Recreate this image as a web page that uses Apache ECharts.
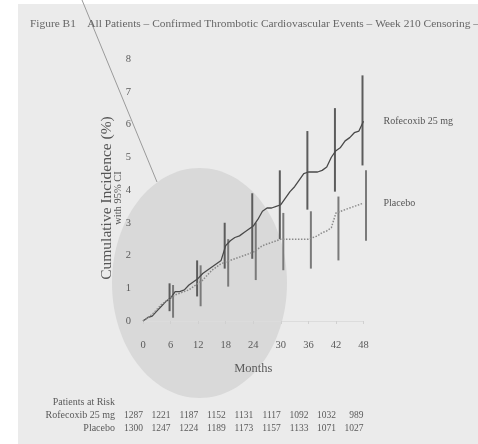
<!DOCTYPE html>
<html>
<head>
<meta charset="utf-8">
<script src="https://cdn.jsdelivr.net/npm/echarts@6/dist/echarts.min.js"></script>
<style>
html,body{margin:0;padding:0;background:#fff;}
#c{width:478px;height:444px;}
</style>
</head>
<body>
<div id="c"></div>
<script>
// ---- data ----
const months = [0,1,2,3,4,5,6,7,8,9,10,11,12,13,14,15,16,17,18,19,20,21,22,23,24,25,26,27,28,29,30,31,32,33,34,35,36,37,38,39,40,41,42,43,44,45,46,47,48];
const rofecoxib = [0,0.1,0.15,0.3,0.45,0.6,0.7,0.9,0.9,0.95,1.1,1.2,1.3,1.45,1.55,1.65,1.75,1.85,2.3,2.45,2.55,2.6,2.7,2.8,2.9,3.1,3.35,3.45,3.45,3.5,3.55,3.75,3.95,4.1,4.3,4.5,4.55,4.55,4.55,4.6,4.7,5.0,5.2,5.3,5.5,5.6,5.75,5.8,6.1];
const placebo = [0,0.1,0.2,0.35,0.5,0.6,0.7,0.8,0.85,0.9,0.95,1.05,1.15,1.25,1.4,1.55,1.65,1.75,1.8,1.85,1.9,1.95,2.0,2.05,2.1,2.2,2.3,2.35,2.4,2.45,2.5,2.5,2.5,2.5,2.5,2.5,2.5,2.55,2.6,2.7,2.75,2.85,3.3,3.35,3.4,3.45,3.5,3.55,3.6];
const ciMonths = [6,12,18,24,30,36,42,48];
const rofLow  = [0.3,0.75,1.6,1.9,2.5,3.4,3.95,4.75];
const rofHigh = [1.15,1.85,3.0,3.9,4.6,5.8,6.5,7.5];
const plaLow  = [0.1,0.45,1.05,1.25,1.55,1.6,1.85,2.45];
const plaHigh = [1.1,1.7,2.5,3.0,3.3,3.35,3.8,4.6];
const xTicks = [0,6,12,18,24,30,36,42,48];
const yTicks = [0,1,2,3,4,5,6,7,8];
const riskRof = [1287,1221,1187,1152,1131,1117,1092,1032,989];
const riskPla = [1300,1247,1224,1189,1173,1157,1133,1071,1027];
const seriesNames = ['Rofecoxib 25 mg','Placebo'];

const serif = 'Liberation Serif';
const txt = '#5a5a5a';

const chart = echarts.init(document.getElementById('c'), null, {renderer:'canvas'});

function ciSeries(low, high, dx, color){
  return {
    type:'custom', z:3,
    data: ciMonths.map((m,i)=>[m, low[i], high[i]]),
    renderItem(params, api){
      const p1 = api.coord([api.value(0), api.value(1)]);
      const p2 = api.coord([api.value(0), api.value(2)]);
      return {type:'line', shape:{x1:p1[0]+dx, y1:p1[1], x2:p2[0]+dx, y2:p2[1]},
              style:{stroke:color, lineWidth:2}};
    }
  };
}

const baseX = {type:'value', min:xTicks[0], max:xTicks[xTicks.length-1], interval:6, gridIndex:0};

chart.setOption({
  backgroundColor:'#ffffff',
  animation:false,
  title:{
    text:'Figure B1    All Patients \u2013 Confirmed Thrombotic Cardiovascular Events \u2013 Week 210 Censoring \u2013',
    left:25, top:14,
    textStyle:{fontFamily:serif, fontSize:11.4, fontWeight:'normal', color:'#666'}
  },
  graphic:[
    {type:'rect', z:-20, shape:{x:18,y:4,width:460,height:440}, style:{fill:'#ebebeb'}},
    {type:'ellipse', z:-10, shape:{cx:199.5,cy:283,rx:87.5,ry:115}, style:{fill:'#d9d9d9'}},
    {type:'line', z:-5, shape:{x1:82,y1:0,x2:157,y2:182}, style:{stroke:'#9a9a9a', lineWidth:1}},
    {type:'text', x:112, y:198, rotation:Math.PI/2, style:{
      text:'{a|Cumulative Incidence (%)}\n{b|with 95% CI}',
      textAlign:'center', textVerticalAlign:'middle',
      rich:{
        a:{fontFamily:serif, fontSize:15.5, fill:'#555', lineHeight:13, align:'center'},
        b:{fontFamily:serif, fontSize:10.5, fill:'#555', lineHeight:11, align:'center'}
      }
    }},
    {type:'text', right:478-115, top:397, style:{text:'Patients at Risk', font:'10px "Liberation Serif"', fill:txt, textAlign:'right'}},
    {type:'text', right:478-115, top:410, style:{text:'Rofecoxib 25 mg', font:'10px "Liberation Serif"', fill:txt, textAlign:'right'}},
    {type:'text', right:478-115, top:423, style:{text:'Placebo', font:'10px "Liberation Serif"', fill:txt, textAlign:'right'}}
  ],
  grid:{left:143, right:114.5, top:59, bottom:123, containLabel:false},
  xAxis:[
    Object.assign({}, baseX, {
      offset:4,
      name:'Months', nameLocation:'middle', nameGap:37,
      nameTextStyle:{fontFamily:serif, fontSize:12.5, color:txt},
      axisLine:{show:true, lineStyle:{color:'#dcdcdc', width:1}},
      axisTick:{show:true, length:3, lineStyle:{color:'#d0d0d0'}},
      axisLabel:{margin:15, fontFamily:serif, fontSize:10.5, color:txt, showMinLabel:true, showMaxLabel:true},
      splitLine:{show:false}
    }),
    Object.assign({}, baseX, {
      position:'bottom', offset:81,
      axisLine:{show:false}, axisTick:{show:false}, splitLine:{show:false},
      axisLabel:{margin:8, align:'right', fontFamily:serif, fontSize:9.5, color:txt,
        showMinLabel:true, showMaxLabel:true,
        formatter:v=>{const i=xTicks.indexOf(v); return i>=0? String(riskRof[i]):'';}}
    }),
    Object.assign({}, baseX, {
      position:'bottom', offset:94,
      axisLine:{show:false}, axisTick:{show:false}, splitLine:{show:false},
      axisLabel:{margin:8, align:'right', fontFamily:serif, fontSize:9.5, color:txt,
        showMinLabel:true, showMaxLabel:true,
        formatter:v=>{const i=xTicks.indexOf(v); return i>=0? String(riskPla[i]):'';}}
    })
  ],
  yAxis:{
    type:'value', min:yTicks[0], max:yTicks[yTicks.length-1], interval:1,
    axisLine:{show:false}, axisTick:{show:false}, splitLine:{show:false},
    axisLabel:{margin:12, fontFamily:serif, fontSize:10.5, color:txt}
  },
  series:[
    {
      name:seriesNames[0], type:'line', showSymbol:false, z:4,
      data: months.map((m,i)=>[m, rofecoxib[i]]),
      lineStyle:{color:'#4a4a4a', width:1.3},
      endLabel:{show:true, formatter:'{a}', distance:20, fontFamily:serif, fontSize:10, color:'#555'}
    },
    {
      name:seriesNames[1], type:'line', showSymbol:false, z:4,
      data: months.map((m,i)=>[m, placebo[i]]),
      lineStyle:{color:'#8a8a8a', width:1.5, type:'dotted'},
      endLabel:{show:true, formatter:'{a}', distance:20, fontFamily:serif, fontSize:10, color:'#555'}
    },
    ciSeries(rofLow, rofHigh, -1, '#5c5c5c'),
    ciSeries(plaLow, plaHigh, 2.5, '#7a7a7a')
  ]
});
</script>
</body>
</html>
